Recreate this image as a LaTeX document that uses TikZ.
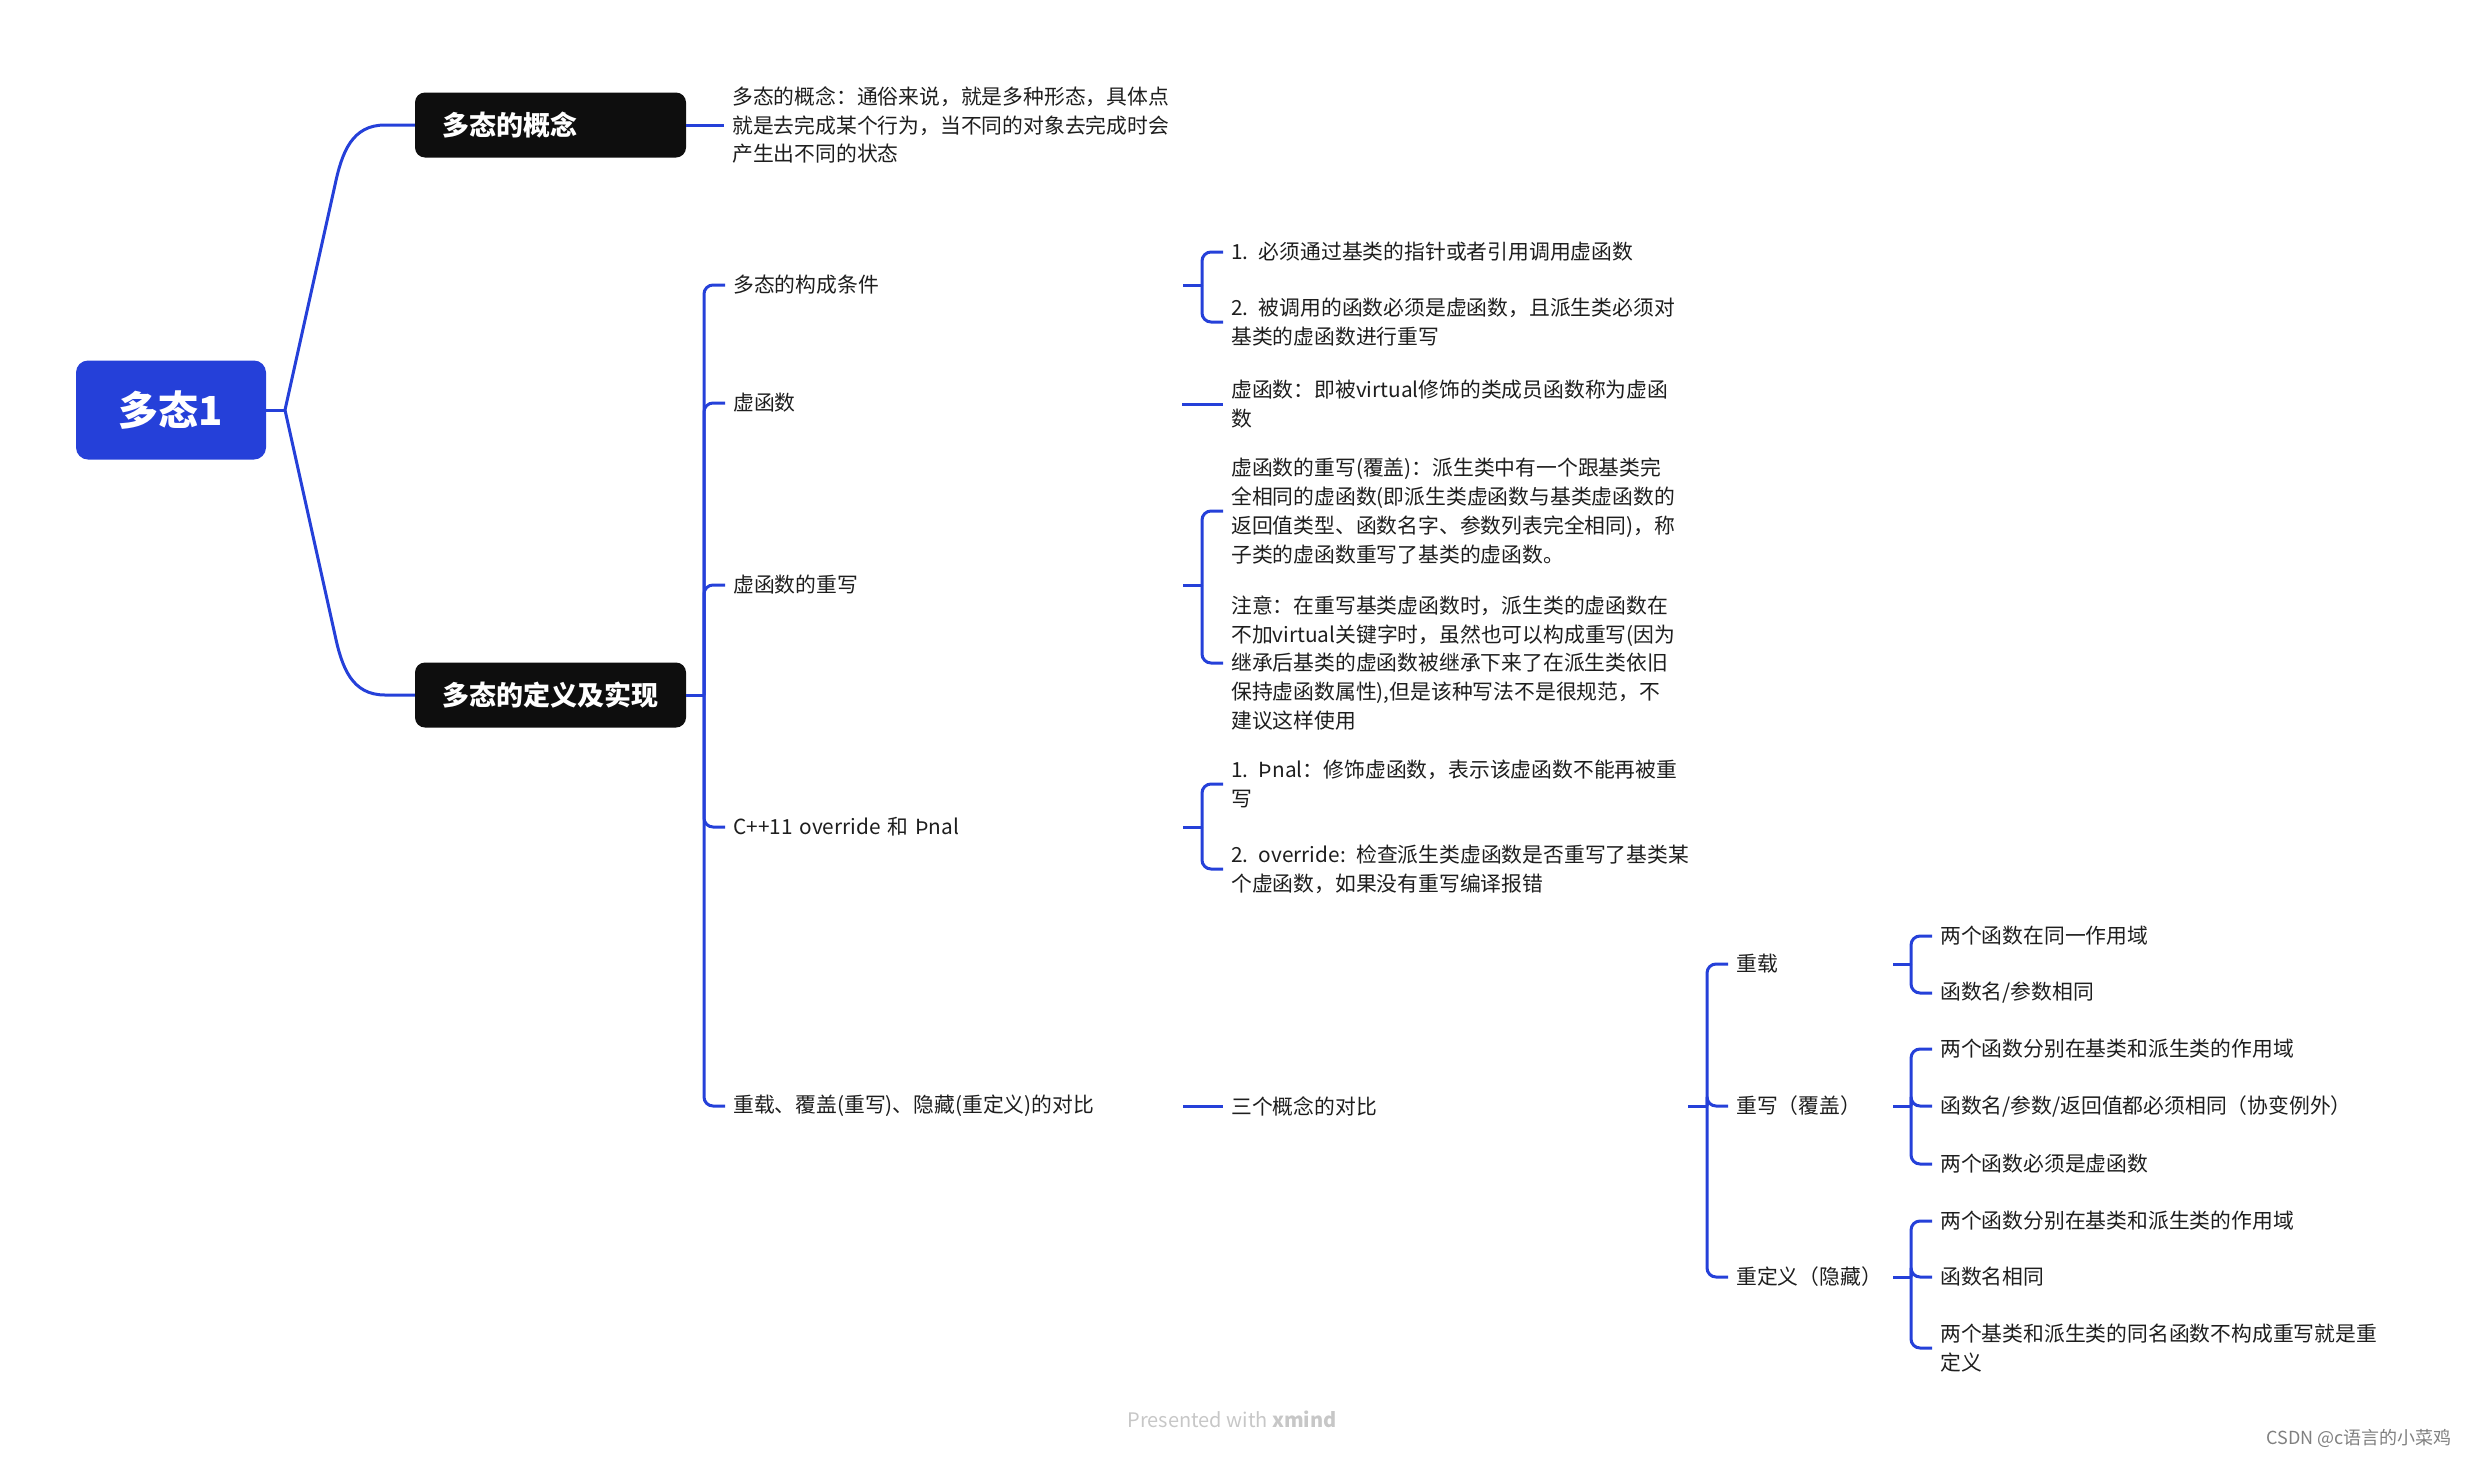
\documentclass[tikz,border=0pt]{standalone}
\usepackage{fontspec}
\setmainfont{Noto Sans CJK SC}
\definecolor{xblue}{RGB}{37,64,217}
\definecolor{xblack}{RGB}{14,14,14}
\definecolor{xtext}{RGB}{30,30,30}
\begin{document}
\begin{tikzpicture}[x=1pt,y=-1pt,
  conn/.style={draw=xblue, line width=3pt},
  elbow/.style={conn, rounded corners=9pt},
  rootbox/.style={fill=xblue, rounded corners=12pt, minimum width=190pt, minimum height=99pt, text=white, font=\fontsize{40}{40}\selectfont\bfseries, inner sep=0pt},
  mainbox/.style={fill=xblack, rounded corners=10pt, minimum height=65pt, text=white, font=\fontsize{27}{27}\selectfont\bfseries, inner xsep=27pt, inner ysep=0pt, text width=217pt, align=left},
  txt/.style={anchor=west, inner xsep=8pt, inner ysep=0pt, align=left, text=xtext, font=\fontsize{20.8}{28.7}\selectfont},
  lvtwo/.style={txt, text width=442pt},
  lvthree/.style={txt, text width=449pt},
  lvfour/.style={txt, text width=149pt},
  lvfive/.style={txt}
]
\useasboundingbox (0,0) rectangle (2467,1459);

% level 0 / 1
\node[rootbox] (root) at (171,410) {多态1};
\node[mainbox] (b1) at (550.5,125) {多态的概念};
\node[mainbox] (b2) at (550.5,695) {多态的定义及实现};
\coordinate (rj) at (285,410);
\draw[conn] (root.east) -- (rj);
\draw[conn] (rj) -- (335,185) .. controls (342,152) and (352,125) .. (385,125) -- (b1.west);
\draw[conn] (rj) -- (335,635) .. controls (342,668) and (352,695) .. (385,695) -- (b2.west);

% concept text
\node[txt] (t0) at (724,125) {多态的概念：通俗来说，就是多种形态，具体点\\就是去完成某个行为，当不同的对象去完成时会\\产生出不同的状态};
\draw[conn] (b1.east) -- (t0.west);

% level 2
\node[lvtwo] (c1) at (725,285) {多态的构成条件};
\node[lvtwo] (c2) at (725,403) {虚函数};
\node[lvtwo] (c3) at (725,585) {虚函数的重写};
\node[lvtwo] (c4) at (725,827) {C++11 override 和 Þnal};
\node[lvtwo] (c5) at (725,1106) {重载、覆盖(重写)、隐藏(重定义)的对比};
\coordinate (s2) at (704,695);
\draw[conn] (b2.east) -- (s2);
\foreach \c in {c1,c2,c3,c4,c5} \draw[elbow] (s2) |- (\c.west);

% level 3
\node[lvthree] (d11) at (1223,252) {1. 必须通过基类的指针或者引用调用虚函数};
\node[lvthree] (d12) at (1223,322) {2. 被调用的函数必须是虚函数，且派生类必须对\\基类的虚函数进行重写};
\node[lvthree] (d21) at (1223,404) {虚函数：即被virtual修饰的类成员函数称为虚函\\数};
\node[lvthree] (d31) at (1223,511) {虚函数的重写(覆盖)：派生类中有一个跟基类完\\全相同的虚函数(即派生类虚函数与基类虚函数的\\返回值类型、函数名字、参数列表完全相同)，称\\子类的虚函数重写了基类的虚函数。};
\node[lvthree] (d32) at (1223,663) {注意：在重写基类虚函数时，派生类的虚函数在\\不加virtual关键字时，虽然也可以构成重写(因为\\继承后基类的虚函数被继承下来了在派生类依旧\\保持虚函数属性),但是该种写法不是很规范，不\\建议这样使用};
\node[lvthree] (d41) at (1223,784) {1. Þnal：修饰虚函数，表示该虚函数不能再被重\\写};
\node[lvthree] (d42) at (1223,869) {2. override: 检查派生类虚函数是否重写了基类某\\个虚函数，如果没有重写编译报错};
\node[lvthree] (d51) at (1223,1106) {三个概念的对比};

\coordinate (s3a) at (1202,285);
\draw[conn] (c1.east) -- (s3a);
\draw[elbow] (s3a) |- (d11.west);
\draw[elbow] (s3a) |- (d12.west);
\draw[conn] (c2.east) -- (d21.west -| c2.east) -- (d21.west);
\coordinate (s3c) at (1202,585);
\draw[conn] (c3.east) -- (s3c);
\draw[elbow] (s3c) |- (d31.west);
\draw[elbow] (s3c) |- (d32.west);
\coordinate (s3d) at (1202,827);
\draw[conn] (c4.east) -- (s3d);
\draw[elbow] (s3d) |- (d41.west);
\draw[elbow] (s3d) |- (d42.west);
\draw[conn] (c5.east) -- (d51.west);

% level 4
\node[lvfour] (e1) at (1728,964) {重载};
\node[lvfour] (e2) at (1728,1106) {重写（覆盖）};
\node[lvfour] (e3) at (1728,1277) {重定义（隐藏）};
\coordinate (s4) at (1707,1106);
\draw[conn] (d51.east) -- (s4);
\foreach \e in {e1,e2,e3} \draw[elbow] (s4) |- (\e.west);

% level 5
\node[lvfive] (f11) at (1932,936) {两个函数在同一作用域};
\node[lvfive] (f12) at (1932,993) {函数名/参数相同};
\node[lvfive] (f21) at (1932,1049) {两个函数分别在基类和派生类的作用域};
\node[lvfive] (f22) at (1932,1106) {函数名/参数/返回值都必须相同（协变例外）};
\node[lvfive] (f23) at (1932,1164) {两个函数必须是虚函数};
\node[lvfive] (f31) at (1932,1221) {两个函数分别在基类和派生类的作用域};
\node[lvfive] (f32) at (1932,1277) {函数名相同};
\node[lvfive] (f33) at (1932,1348) {两个基类和派生类的同名函数不构成重写就是重\\定义};

\coordinate (s5a) at (1911,964);
\coordinate (s5b) at (1911,1106);
\coordinate (s5c) at (1911,1277);
\draw[conn] (e1.east) -- (s5a);
\draw[conn] (e2.east) -- (s5b);
\draw[conn] (e3.east) -- (s5c);
\foreach \f in {f11,f12} \draw[elbow] (s5a) |- (\f.west);
\foreach \f in {f21,f22,f23} \draw[elbow] (s5b) |- (\f.west);
\foreach \f in {f31,f32,f33} \draw[elbow] (s5c) |- (\f.west);

% footer
\node[font=\fontsize{20}{20}\selectfont, text=black!22, inner sep=0pt] (pw) at (1232,1419) {Presented with \textbf{xmind}};
\node[anchor=east, font=\fontsize{18}{18}\selectfont, text=black!50, inner sep=0pt] (csdn) at (2452,1438) {CSDN @c语言的小菜鸡};
\end{tikzpicture}
\end{document}
